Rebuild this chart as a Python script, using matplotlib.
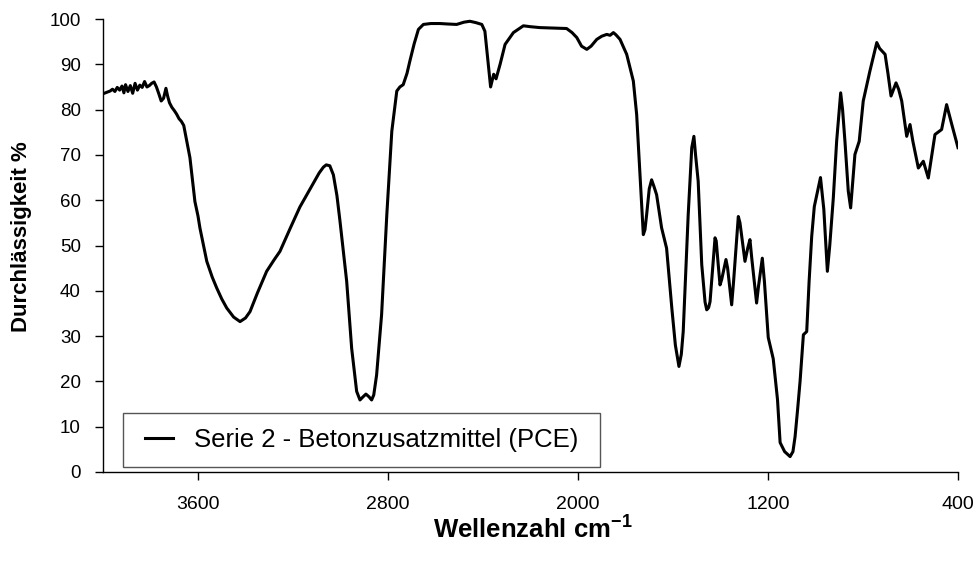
import matplotlib
matplotlib.use("Agg")
import matplotlib.pyplot as plt
from matplotlib.patches import Rectangle

plt.rcParams['font.family'] = ['Liberation Sans', 'DejaVu Sans']
plt.rcParams['mathtext.fontset'] = 'custom'
plt.rcParams['mathtext.rm'] = 'Liberation Sans:bold'
plt.rcParams['mathtext.bf'] = 'Liberation Sans:bold'

series_label = "Serie 2 - Betonzusatzmittel (PCE)"
x_label = r"Wellenzahl cm$^{\mathbf{-1}}$"
y_label = "Durchlässigkeit %"
x_ticks = [3600, 2800, 2000, 1200, 400]
y_ticks = [0, 10, 20, 30, 40, 50, 60, 70, 80, 90, 100]

wavenumber = [
    4000, 3985, 3970, 3960, 3950, 3940, 3930, 3920, 3912, 3905, 3895, 3885,
    3875, 3865, 3855, 3845, 3835, 3825, 3815, 3805, 3795, 3785, 3775, 3765,
    3755, 3745, 3735, 3728, 3720, 3710, 3700, 3690, 3680, 3670, 3660, 3650,
    3640, 3634, 3620, 3613, 3600, 3592, 3575, 3563, 3540, 3521, 3500, 3479,
    3450, 3423, 3400, 3381, 3350, 3311, 3280, 3255, 3210, 3171, 3128, 3090,
    3072, 3060, 3045, 3030, 3015, 3002, 2974, 2953, 2932, 2918, 2905, 2893,
    2880, 2869, 2860, 2848, 2827, 2805, 2784, 2763, 2750, 2736, 2720, 2708,
    2690, 2672, 2651, 2620, 2581, 2550, 2511, 2480, 2455, 2430, 2405, 2392,
    2378, 2368, 2355, 2345, 2328, 2307, 2272, 2230, 2200, 2160, 2100, 2048,
    2025, 2005, 1985, 1963, 1945, 1921, 1900, 1879, 1865, 1851, 1840, 1823,
    1795, 1767, 1753, 1739, 1725, 1718, 1711, 1700, 1690, 1680, 1669, 1648,
    1627, 1605, 1590, 1575, 1565, 1557, 1536, 1521, 1512, 1505, 1494, 1479,
    1465, 1458, 1450, 1444, 1423, 1418, 1410, 1402, 1395, 1377, 1370, 1353,
    1345, 1325, 1318, 1297, 1285, 1276, 1268, 1248, 1240, 1224, 1215, 1199,
    1178, 1160, 1149, 1130, 1107, 1095, 1086, 1075, 1065, 1051, 1037, 1027,
    1016, 1005, 979, 965, 950, 940, 925, 911, 894, 886, 876, 862, 852, 842,
    834, 816, 799, 771, 742, 730, 707, 695, 682, 661, 650, 637, 616, 602,
    590, 567, 546, 525, 510, 497, 469, 448, 425, 400,
]
transmission = [
    83.5, 83.8, 84.1, 84.5, 84.0, 84.9, 84.3, 85.2, 83.7, 85.5, 84.0, 85.3,
    83.6, 85.8, 84.3, 85.4, 84.9, 86.2, 85.0, 85.3, 85.8, 86.1, 85.0, 83.5,
    81.9, 82.5, 84.7, 83.0, 81.5, 80.5, 79.8, 79.0, 78.0, 77.4, 76.5, 73.8,
    71.0, 69.4, 63.0, 59.7, 56.5, 53.9, 49.5, 46.5, 43.0, 40.6, 38.2, 36.2,
    34.2, 33.2, 34.0, 35.4, 39.5, 44.3, 46.8, 48.7, 54.0, 58.5, 62.5, 66.0,
    67.3, 67.8, 67.6, 65.6, 61.0, 55.3, 42.1, 27.3, 17.8, 15.9, 16.6, 17.2,
    16.6, 15.9, 17.0, 21.4, 34.7, 56.8, 75.2, 84.1, 85.0, 85.5, 88.0, 90.7,
    94.5, 97.7, 98.8, 99.0, 99.0, 98.9, 98.8, 99.3, 99.5, 99.2, 98.8, 97.3,
    90.0, 85.0, 87.8, 86.8, 90.0, 94.4, 97.0, 98.5, 98.3, 98.1, 98.0, 97.9,
    97.0, 95.9, 94.0, 93.3, 94.0, 95.5, 96.2, 96.6, 96.4, 97.0, 96.5, 95.5,
    92.2, 86.3, 78.9, 65.6, 52.4, 53.5, 56.8, 62.5, 64.5, 63.0, 61.2, 53.9,
    49.4, 36.2, 28.0, 23.3, 26.0, 31.0, 56.8, 71.6, 74.1, 70.0, 64.2, 45.8,
    37.5, 35.8, 36.3, 37.6, 51.7, 51.0, 46.0, 41.3, 42.5, 46.9, 45.0, 36.9,
    42.0, 56.4, 55.0, 46.5, 49.5, 51.3, 47.0, 37.3, 41.0, 47.2, 42.0, 29.7,
    25.0, 16.0, 6.5, 4.5, 3.4, 4.5, 7.8, 14.0, 20.0, 30.3, 31.0, 42.0,
    52.0, 58.6, 65.0, 58.0, 44.3, 50.0, 60.5, 73.0, 83.7, 80.0, 73.0, 62.0,
    58.3, 65.0, 70.1, 73.0, 81.9, 88.5, 94.8, 93.5, 92.2, 88.0, 83.0, 85.9,
    84.5, 81.9, 74.1, 76.7, 73.0, 67.1, 68.6, 64.9, 70.0, 74.5, 75.6, 81.1,
    76.5, 71.6,
]

fig = plt.figure(figsize=(9.8, 5.67), dpi=100)
ax = fig.add_axes([103 / 980, 1 - 472 / 567, (958 - 103) / 980, (472 - 19) / 567])

line, = ax.plot(wavenumber, transmission, color='black', linewidth=2.2,
                solid_joinstyle='round', label=series_label)

ax.set_xlim(4000, 400)
ax.set_ylim(0, 100)
ax.set_xticks(x_ticks)
ax.set_yticks(y_ticks)

for side in ('top', 'right'):
    ax.spines[side].set_visible(False)
for side in ('left', 'bottom'):
    ax.spines[side].set_color('black')
    ax.spines[side].set_linewidth(1.0)

ax.tick_params(axis='x', direction='out', length=6, width=1, pad=11, labelsize=14)
ax.tick_params(axis='y', direction='out', length=6, width=1, pad=10, labelsize=13.5)

fig.text(533 / 980, 1 - 529 / 567, x_label, ha='center', va='center',
         fontsize=18.5, fontweight='bold')
fig.text(22 / 980, 1 - 237 / 567, y_label, ha='center', va='center',
         rotation=90, fontsize=16, fontweight='bold')

# legend frame (Excel-style tight box)
frame = Rectangle((123 / 980, 1 - 467 / 567), (600 - 123) / 980, 54 / 567,
                  transform=fig.transFigure, facecolor='white',
                  edgecolor='#555555', linewidth=1.0, zorder=4)
ax.add_artist(frame)
frame.set_clip_on(False)

leg = ax.legend(handles=[line], loc='center left',
                bbox_to_anchor=(145 / 980, 1 - 440 / 567),
                bbox_transform=fig.transFigure, borderaxespad=0, borderpad=0,
                frameon=False, fontsize=18.5, handlelength=1.1,
                handletextpad=0.8)
leg.set_zorder(5)

fig.savefig('out.png', dpi=100)
